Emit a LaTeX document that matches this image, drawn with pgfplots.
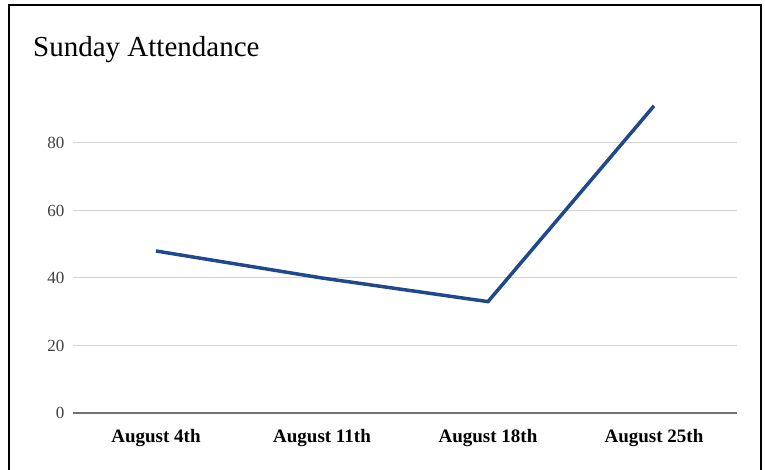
\documentclass[border=0pt]{standalone}
\usepackage{pgfplots}
\pgfplotsset{compat=1.18}
\usepackage{fontspec}
\setmainfont{Liberation Serif}
\definecolor{linecol}{RGB}{31,73,138}
\definecolor{gridcol}{RGB}{212,212,212}
\begin{document}
\begin{tikzpicture}[x=1pt,y=1pt]
\useasboundingbox (0,0) rectangle (765,470);
% frame round the chart, bottom edge outside the picture
\draw[line width=2.8pt] (9,-10) -- (9,465) -- (761,465) -- (761,-10);
\node[anchor=base west, inner sep=0pt, font=\fontsize{29}{32}\selectfont] at (33,413) {Sunday Attendance};
\begin{axis}[
  at={(73pt,57pt)}, anchor=south west,
  scale only axis,
  width=664pt, height=337.5pt,
  xmin=-0.5, xmax=3.5,
  ymin=0, ymax=100,
  xtick={0,1,2,3},
  xticklabels={August 4th,August 11th,August 18th,August 25th},
  ytick={0,20,40,60,80},
  axis x line*=bottom, axis y line*=left,
  axis line style={-},
  x axis line style={draw=black!55, line width=1.5pt},
  y axis line style={draw=none},
  major tick length=0pt,
  ymajorgrids=true,
  grid style={gridcol, line width=1pt},
  /pgf/number format/assume math mode=true,
  yticklabel style={font=\fontsize{17}{17}\selectfont, text=black!75, xshift=-5pt},
  xticklabel style={font=\bfseries\fontsize{19}{19}\selectfont, yshift=-13pt},
  clip=false,
]
\addplot[linecol, line width=3.5pt, no markers] coordinates {
  (0,48) (1,40) (2,33) (3,91)
};
\end{axis}
\end{tikzpicture}
\end{document}
